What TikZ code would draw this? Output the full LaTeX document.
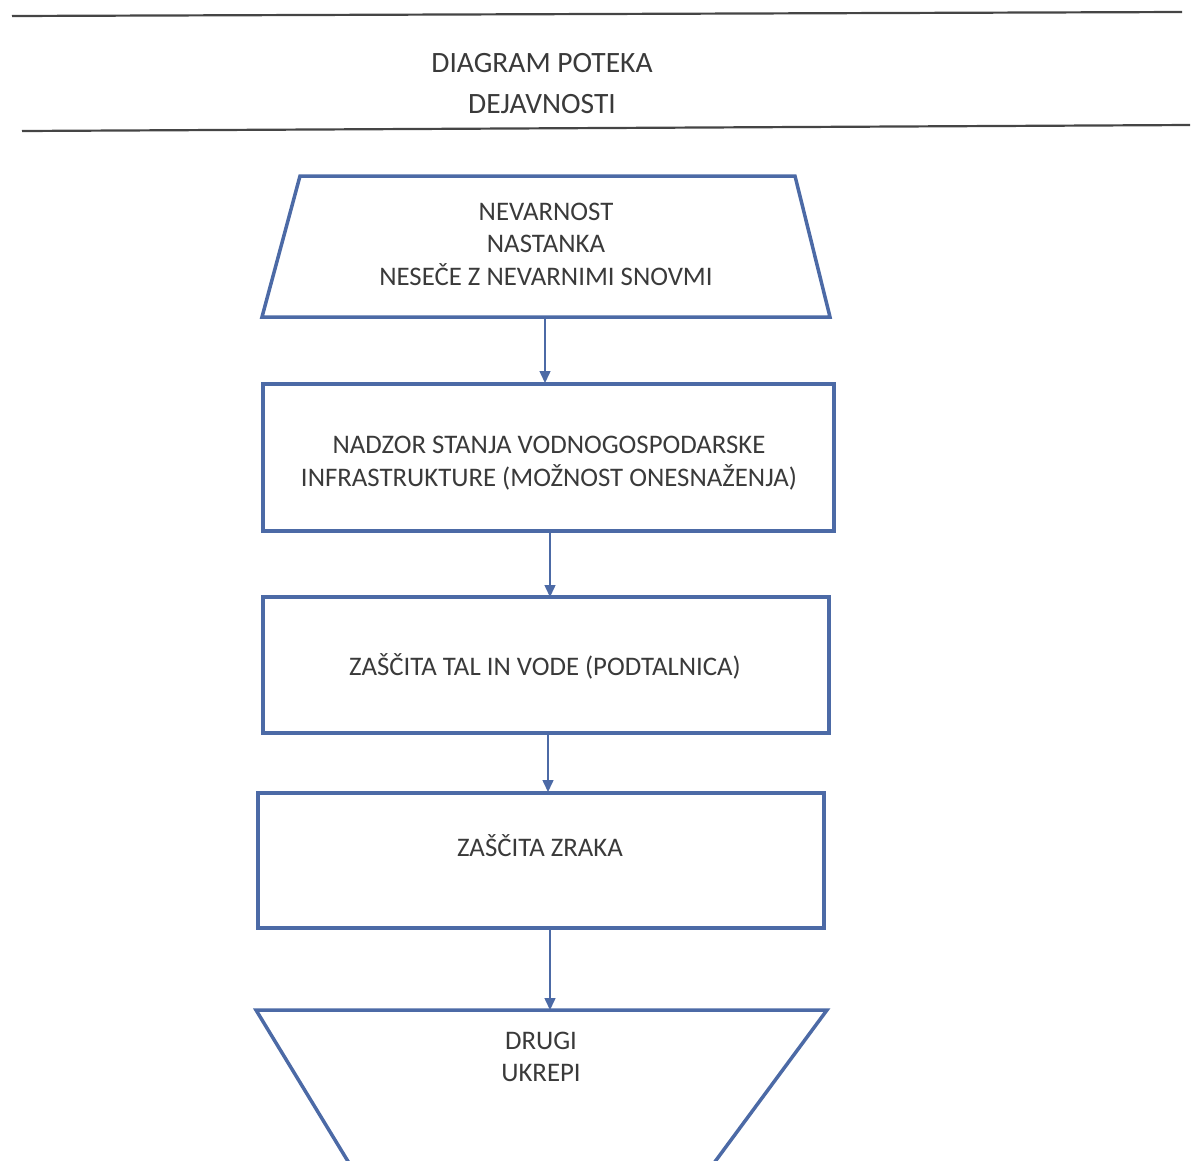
\documentclass[tikz,border=0pt]{standalone}
\usepackage{fontspec}
\setmainfont{Carlito}
\usetikzlibrary{arrows.meta}
\definecolor{boxblue}{HTML}{4C6AA6}
\definecolor{txt}{HTML}{3A3A3A}
\definecolor{rule}{HTML}{454545}
\tikzset{
  box/.style={draw=boxblue,line width=3.5pt,rectangle,inner sep=0pt},
  shapeline/.style={draw=boxblue,line width=3.5pt,line join=miter},
  lbl/.style={text=txt,font=\fontsize{26.8}{32.5}\selectfont,align=center,inner sep=0pt},
  ttl/.style={text=txt,font=\fontsize{29.5}{41}\selectfont,align=center,inner sep=0pt},
  arr/.style={draw=boxblue,line width=1.5pt,-{Triangle[length=12pt,width=11pt]}},
  hrule/.style={draw=rule,line width=2.2pt}
}
\begin{document}
\begin{tikzpicture}[x=1pt,y=-1pt]
\useasboundingbox (0,0) rectangle (1192,1160);
\begin{scope}
\clip (0,0) rectangle (1192,1160);
% header rules
\coordinate (r1a) at (12,16); \coordinate (r1b) at (1182,12);
\coordinate (r2a) at (22,131); \coordinate (r2b) at (1190,125);
\draw[hrule] (r1a) -- (r1b);
\draw[hrule] (r2a) -- (r2b);
\node[ttl] (title) at (542,84) {DIAGRAM POTEKA\\DEJAVNOSTI};
% top trapezoid
\coordinate (b1tl) at (300,176); \coordinate (b1tr) at (795,176);
\coordinate (b1br) at (830,317); \coordinate (b1bl) at (262,317);
\draw[shapeline] (b1tl) -- (b1tr) -- (b1br) -- (b1bl) -- cycle;
\node[lbl] (t1) at (546,244) {NEVARNOST\\NASTANKA\\NESEČE Z NEVARNIMI SNOVMI};
\coordinate (b1s) at (545,317);
% boxes
\node[box,minimum width=571pt,minimum height=147pt] (b2) at (548.5,457.5) {};
\node[lbl] (t2) at (549,463) {NADZOR STANJA VODNOGOSPODARSKE\\INFRASTRUKTURE (MOŽNOST ONESNAŽENJA)};
\node[box,minimum width=566pt,minimum height=136pt] (b3) at (546,665) {};
\node[lbl] (t3) at (545,666) {ZAŠČITA TAL IN VODE (PODTALNICA)};
\node[box,minimum width=566pt,minimum height=135pt] (b4) at (541,860.5) {};
\node[lbl] (t4) at (540,846) {ZAŠČITA ZRAKA};
% bottom trapezoid
\coordinate (b5tl) at (256,1010); \coordinate (b5tr) at (827,1010);
\coordinate (b5br) at (714,1163); \coordinate (b5bl) at (349,1163);
\draw[shapeline] (b5tl) -- (b5tr) -- (b5br) -- (b5bl) -- cycle;
\node[lbl] (t5) at (541,1057) {DRUGI\\UKREPI};
\coordinate (a1) at (545,383);
\coordinate (a2) at (550,597);
\coordinate (a3) at (548,792);
\coordinate (a4) at (550,1010);
\draw[arr] (b1s) -- (a1);
\draw[arr] (b2.south -| a2) -- (a2);
\draw[arr] (b3.south -| a3) -- (a3);
\draw[arr] (b4.south -| a4) -- (a4);
\end{scope}
\end{tikzpicture}
\end{document}
